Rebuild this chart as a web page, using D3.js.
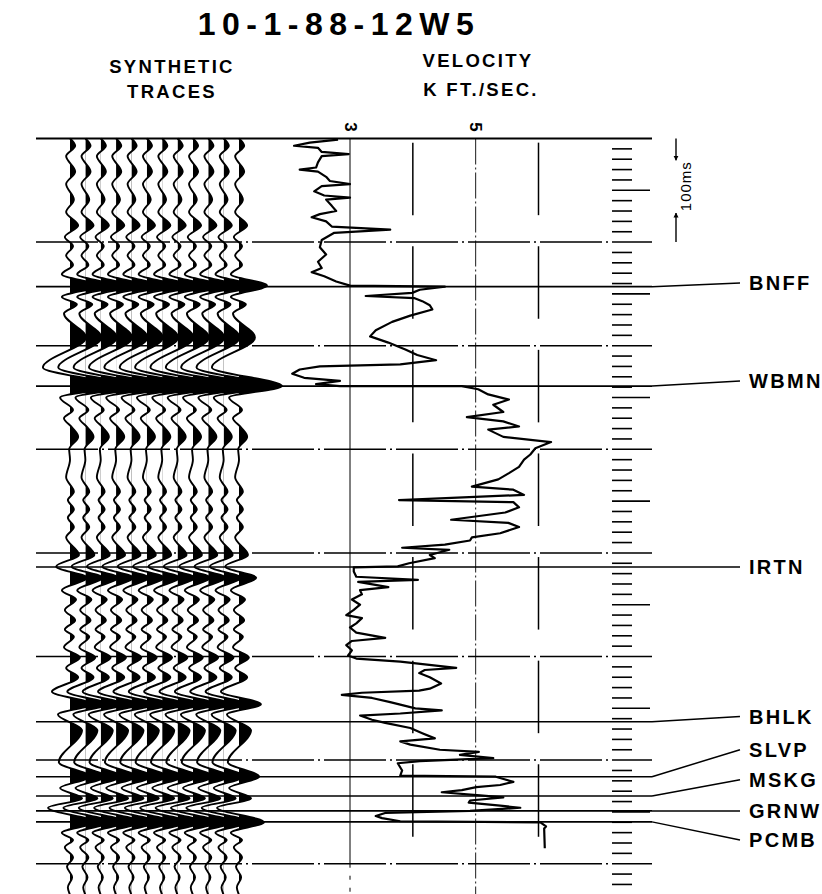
<!DOCTYPE html>
<html>
<head>
<meta charset="utf-8">
<script src="https://cdn.jsdelivr.net/npm/d3@7"></script>
<style>
  body { margin: 0; background: #fff; }
  svg { display: block; }
  text { font-family: "Liberation Sans", Arial, Helvetica, sans-serif; font-weight: bold; fill: #000; }
</style>
</head>
<body>
<svg id="chart" width="822" height="894"></svg>
<script>

// Synthetic trace: peaks and troughs, two-way time (ms) and relative amplitude (WBMN = 100)
const traceTime = [0, 7, 17, 32, 44, 59, 71, 84, 95, 104, 113, 122, 131, 142, 153, 160, 169, 192,
                   221, 239, 250, 262, 270, 279, 288, 300, 310, 327, 341, 349, 358, 366, 375, 385,
                   402, 413, 424, 436, 445, 455, 465, 474, 481, 491, 501, 511, 520, 534,
                   546, 556, 571, 602, 616, 627, 637, 646, 660, 670, 677, 684, 694, 703, 713, 723, 730];
const traceAmp  = [0, 12, -9, 12, -9, 9, -9, 19, -12, 7, -9, 7, -19, 65, -19, 16, -14, 37,
                   -63, 100, -23, 7, -14, 5, 19, -2, 0, -9, 9, -5, 9, -5, 9, -9,
                   21, -32, 40, -19, 14, -12, 12, -12, 9, -14, 23, -9, 19, -42,
                   51, -28, 28, -26, 47, -23, 28, -51, 58, -19, 7, -12, 7, -7, 5, -5, 0];
const traceCount = 12;

// Velocity log: two-way time (ms) and velocity (k ft/sec)
const logTime = [1, 4, 7, 9, 13, 15, 17, 23, 28, 30, 32, 37, 41, 44, 46, 51, 55, 57, 59, 65,
                 70, 73, 76, 80, 85, 88, 91, 98, 105, 112, 119, 125, 129, 133, 138, 142, 143, 146, 149, 152,
                 154, 157, 161, 165, 171, 177, 185, 191, 197, 204, 209, 214, 218, 220, 223, 227, 231, 234, 237, 239,
                 239, 242, 247, 252, 257, 264, 269, 273, 278, 281, 288, 293, 299, 305, 310, 317, 323, 329, 336, 339,
                 344, 349, 351, 356, 361, 368, 371, 375, 381, 385, 388, 392, 395, 397, 402, 405, 410, 413, 414, 418,
                 423, 426, 428, 433, 436, 440, 445, 450, 455, 460, 463, 468, 472, 477, 482, 485, 489, 494, 499, 502,
                 505, 511, 513, 516, 520, 526, 531, 533, 535, 537, 540, 544, 550, 552, 555, 557, 561, 564, 569, 574,
                 579, 582, 585, 590, 592, 595, 598, 601, 603, 610, 615, 616, 621, 624, 626, 629, 631, 634, 636, 639,
                 641, 644, 646, 649, 651, 654, 656, 659, 660, 664, 666, 685];
const logVel  = [2.81, 2.36, 2.11, 2.49, 2.55, 2.98, 2.55, 2.49, 2.46, 2.20, 2.49, 2.62, 2.68, 3.00, 2.55, 2.43, 2.59, 3.00, 2.62, 2.71,
                 2.78, 2.52, 2.39, 2.62, 2.71, 3.64, 2.75, 2.55, 2.52, 2.62, 2.49, 2.55, 2.39, 2.59, 2.78, 3.00, 4.51, 4.11, 3.99, 3.25,
                 4.02, 4.15, 4.27, 4.31, 3.96, 3.67, 3.41, 3.32, 3.61, 3.89, 4.07, 4.37, 3.80, 2.52, 2.20, 2.08, 2.27, 2.84, 2.46, 2.84,
                 4.78, 5.04, 5.20, 5.53, 5.28, 5.44, 4.86, 5.44, 5.69, 5.20, 5.44, 6.20, 5.95, 5.87, 5.77, 5.69, 5.53, 5.36, 4.94, 5.60,
                 5.77, 3.78, 5.60, 5.69, 5.47, 4.61, 5.52, 5.69, 5.39, 4.94, 4.91, 4.51, 3.83, 4.58, 4.27, 4.35, 3.94, 3.76, 3.06, 3.06,
                 3.10, 4.08, 3.13, 3.61, 3.16, 3.19, 3.03, 3.16, 3.06, 2.94, 3.19, 3.10, 3.00, 3.10, 3.56, 3.03, 2.94, 3.03, 2.97, 3.10,
                 3.80, 4.69, 4.19, 4.10, 4.27, 4.45, 4.27, 4.10, 3.19, 2.87, 3.35, 3.64, 4.04, 4.46, 3.80, 3.16, 3.35, 3.56, 3.96, 4.15,
                 4.35, 3.80, 3.96, 4.43, 5.05, 4.75, 5.28, 4.11, 3.76, 3.83, 3.80, 5.32, 5.60, 5.39, 5.01, 4.78, 4.46, 5.07, 5.44, 4.91,
                 4.89, 5.39, 5.71, 4.91, 3.56, 3.41, 3.51, 3.80, 6.03, 6.12, 6.09, 6.10];

// Formation tops
const topNames  = ["BNFF", "WBMN", "IRTN", "BHLK", "SLVP", "MSKG", "GRNW", "PCMB"];
const topTimes  = [143, 239, 413.6, 563, 616, 634.6, 649, 659.6];
const labelTimes = [139.5, 234, 413.6, 558, 590, 619, 649, 677];

// Axes
const velTicks = [3, 5];
const gridTimes = [0, 100, 200, 300, 400, 500, 600, 700];

const width = 822, height = 894;
const left = 36, right = 652;

const svg = d3.select("#chart");

// Scales
const tScale = d3.scaleLinear().domain([0, 730]).range([138.5, 894.8]);
const vScale = d3.scaleLinear().domain([3, 6]).range([350, 538.5]);
const ampScale = d3.scaleLinear().domain([0, 100]).range([0, 43]);
const traceScale = d3.scaleLinear().domain([0, traceCount - 1]).range([70, 239]);

// Titles
svg.append("text")
   .attr("x", 339).attr("y", 35)
   .attr("text-anchor", "middle")
   .style("font-size", "32px")
   .style("letter-spacing", "6.5px")
   .text("10-1-88-12W5");

const heads = [
	{x: 172, y: 73, s: "SYNTHETIC"},
	{x: 172, y: 98, s: "TRACES"},
	{x: 478, y: 67, s: "VELOCITY"},
	{x: 481, y: 96, s: "K FT./SEC."}
];
svg.append("g").selectAll("text")
   .data(heads)
   .join("text")
   .attr("x", d => d.x).attr("y", d => d.y)
   .attr("text-anchor", "middle")
   .style("font-size", "18.5px")
   .style("letter-spacing", "2.3px")
   .text(d => d.s);

// Horizontal time grid (100 ms)
svg.append("g").selectAll("line")
   .data(gridTimes)
   .join("line")
   .attr("x1", left).attr("x2", right)
   .attr("y1", d => tScale(d)).attr("y2", d => tScale(d))
   .attr("stroke", "#000")
   .attr("stroke-width", d => d === 0 ? 2.2 : 1.5)
   .attr("stroke-dasharray", d => d === 0 ? null : "62 4 2 4");

// Formation top lines
svg.append("g").selectAll("line")
   .data(topTimes)
   .join("line")
   .attr("x1", left).attr("x2", right)
   .attr("y1", d => tScale(d)).attr("y2", d => tScale(d))
   .attr("stroke", "#000")
   .attr("stroke-width", 1.6);

// Velocity grid
const vg = svg.append("g");
vg.append("line")
  .attr("x1", vScale(3)).attr("x2", vScale(3))
  .attr("y1", tScale(0)).attr("y2", tScale(700))
  .attr("stroke", "#000").attr("stroke-width", 1);
vg.append("line")
  .attr("x1", vScale(3)).attr("x2", vScale(3))
  .attr("y1", tScale(700)).attr("y2", height)
  .attr("stroke", "#000").attr("stroke-width", 1)
  .attr("stroke-dasharray", "4 8");
vg.append("line")
  .attr("x1", vScale(5)).attr("x2", vScale(5))
  .attr("y1", tScale(0)).attr("y2", height)
  .attr("stroke", "#000").attr("stroke-width", 0.9)
  .attr("stroke-dasharray", "26 3 2 3");

// v = 4 and 6: broken segments inside each 100 ms band
const segs = [];
[4, 6].forEach(v => gridTimes.slice(0, 7).forEach(t => segs.push({v: v, t0: t + 4, t1: t + 74})));
vg.selectAll(".seg")
  .data(segs)
  .join("line")
  .attr("class", "seg")
  .attr("x1", d => vScale(d.v)).attr("x2", d => vScale(d.v))
  .attr("y1", d => tScale(d.t0)).attr("y2", d => tScale(d.t1))
  .attr("stroke", "#000").attr("stroke-width", 1.5);

// Velocity tick labels (rotated)
svg.append("g").selectAll("text")
   .data(velTicks)
   .join("text")
   .attr("transform", d => "translate(" + vScale(d) + ",127) rotate(90)")
   .attr("text-anchor", "middle")
   .attr("dominant-baseline", "central")
   .style("font-size", "17px")
   .text(d => d);

// Time scale ticks (10 ms, longer at 50 ms)
const tickTimes = d3.range(0, 731, 10).filter(d => d % 100 !== 0);
svg.append("g").selectAll("line")
   .data(tickTimes)
   .join("line")
   .attr("x1", 612)
   .attr("x2", d => d % 50 === 0 ? 650 : 632)
   .attr("y1", d => tScale(d)).attr("y2", d => tScale(d))
   .attr("stroke", "#000").attr("stroke-width", 1.6);

// 100 ms annotation
const defs = svg.append("defs");
defs.append("marker")
    .attr("id", "arrow")
    .attr("viewBox", "0 0 10 10")
    .attr("refX", 9).attr("refY", 5)
    .attr("markerWidth", 5).attr("markerHeight", 8)
    .attr("markerUnits", "userSpaceOnUse")
    .attr("orient", "auto")
  .append("path")
    .attr("d", "M0,0 L10,5 L0,10 Z")
    .attr("fill", "#000");

const ann = svg.append("g");
ann.append("line")
   .attr("x1", 676).attr("x2", 676)
   .attr("y1", tScale(0)).attr("y2", tScale(21))
   .attr("stroke", "#000").attr("stroke-width", 1.4)
   .attr("marker-end", "url(#arrow)");
ann.append("line")
   .attr("x1", 676).attr("x2", 676)
   .attr("y1", tScale(100)).attr("y2", tScale(72))
   .attr("stroke", "#000").attr("stroke-width", 1.4)
   .attr("marker-end", "url(#arrow)");
ann.append("text")
   .attr("transform", "translate(685," + tScale(46) + ") rotate(-90)")
   .attr("text-anchor", "middle")
   .attr("dominant-baseline", "central")
   .style("font-size", "15px")
   .style("font-weight", "normal")
   .style("letter-spacing", "1px")
   .text("100ms");

// Synthetic traces (variable area wiggle)
const tracePts = traceTime.map((t, j) => [t, traceAmp[j]]);
const traces = svg.append("g");
d3.range(traceCount).forEach(i => {
	const base = traceScale(i);

	defs.append("clipPath")
		.attr("id", "pos" + i)
	  .append("rect")
		.attr("x", base).attr("y", 0)
		.attr("width", 200).attr("height", height);

	const area = d3.area()
				   .curve(d3.curveMonotoneY)
				   .y(d => tScale(d[0]))
				   .x0(base)
				   .x1(d => base + ampScale(d[1]));

	const wiggle = d3.line()
					 .curve(d3.curveMonotoneY)
					 .y(d => tScale(d[0]))
					 .x(d => base + ampScale(d[1]));

	traces.append("path")
		  .attr("d", area(tracePts))
		  .attr("clip-path", "url(#pos" + i + ")")
		  .attr("fill", "#000");

	traces.append("path")
		  .attr("d", wiggle(tracePts))
		  .attr("fill", "none")
		  .attr("stroke", "#000")
		  .attr("stroke-width", 1.9);
});

// Velocity log
const logLine = d3.line()
				  .x((d, j) => vScale(logVel[j]))
				  .y(d => tScale(d));
svg.append("path")
   .attr("d", logLine(logTime))
   .attr("fill", "none")
   .attr("stroke", "#000")
   .attr("stroke-width", 2.2)
   .attr("stroke-linejoin", "round");

// Formation labels and leaders
const tops = topNames.map((n, j) => ({name: n, t: topTimes[j], lt: labelTimes[j]}));
svg.append("g").selectAll("line")
   .data(tops)
   .join("line")
   .attr("x1", right).attr("x2", 740)
   .attr("y1", d => tScale(d.t)).attr("y2", d => tScale(d.lt))
   .attr("stroke", "#000").attr("stroke-width", 1.5);

svg.append("g").selectAll("text")
   .data(tops)
   .join("text")
   .attr("x", 749)
   .attr("y", d => tScale(d.lt))
   .attr("dominant-baseline", "central")
   .style("font-size", "20px")
   .style("letter-spacing", "2.3px")
   .text(d => d.name);

</script>
</body>
</html>
